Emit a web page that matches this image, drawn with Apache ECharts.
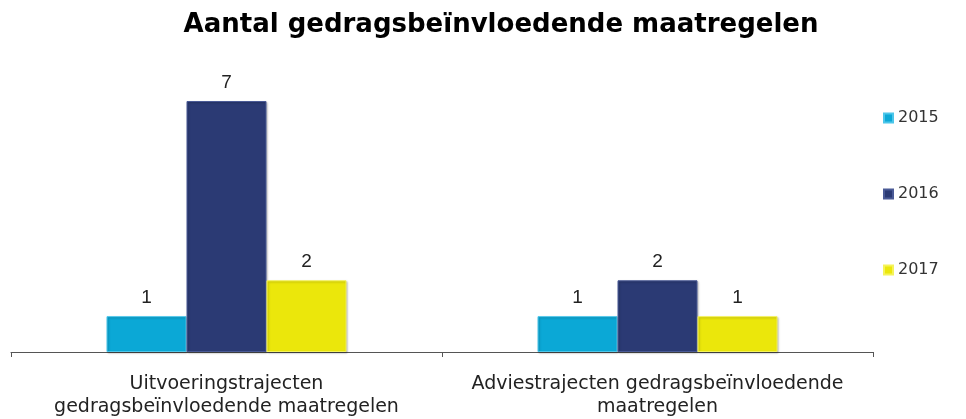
<!DOCTYPE html>
<html>
<head>
<meta charset="utf-8">
<script src="https://cdn.jsdelivr.net/npm/echarts@6/dist/echarts.min.js"></script>
<style>html,body{margin:0;padding:0;background:#fff;}#c{width:966px;height:419px;}</style>
</head>
<body>
<div id="c"></div>
<script>
const categories = ['Uitvoeringstrajecten\ngedragsbeïnvloedende maatregelen', 'Adviestrajecten gedragsbeïnvloedende\nmaatregelen'];
const seriesNames = ['2015', '2016', '2017'];
const values2015 = [1, 1];
const values2016 = [7, 2];
const values2017 = [2, 1];
const colors = ['#0ba8d6', '#2b3a74', '#ebe70b'];
const borders = ['#4cc6ea', '#4a5a96', '#f5f35a'];

const chart = echarts.init(document.getElementById('c'));
const data = [values2015, values2016, values2017];
chart.setOption({
  animation: false,
  title: {
    text: 'Aantal gedragsbeïnvloedende maatregelen',
    left: 496, top: 7, textAlign: 'center',
    textStyle: {fontFamily: 'DejaVu Sans', fontSize: 26, fontWeight: 'bold', color: '#000'}
  },
  legend: {
    orient: 'vertical', left: 883, top: 110, itemGap: 60, padding: 0,
    itemWidth: 9, itemHeight: 9, icon: 'rect',
    textStyle: {fontFamily: 'DejaVu Sans', fontSize: 16, color: '#333'},
    data: seriesNames
  },
  grid: {left: 11, right: 93, top: 101, bottom: 66},
  xAxis: {
    type: 'category', data: categories,
    axisLine: {lineStyle: {color: '#555', width: 1}},
    axisTick: {show: true, length: 5, lineStyle: {color: '#555'}},
    axisLabel: {fontFamily: 'DejaVu Sans', fontSize: 19, color: '#222', lineHeight: 23, margin: 21, interval: 0}
  },
  yAxis: {type: 'value', min: 0, max: 7, show: false, splitLine: {show: false}},
  series: seriesNames.map((n, i) => ({
    name: n, type: 'bar', data: data[i], barWidth: 80, barGap: '0%',
    itemStyle: {color: colors[i], borderColor: borders[i], borderWidth: 1,
      shadowColor: 'rgba(0,0,0,0.25)', shadowBlur: 2, shadowOffsetX: 1, shadowOffsetY: 1},
    label: {show: true, position: 'top', distance: 9, fontFamily: 'Liberation Sans', fontSize: 19, color: '#222'}
  }))
});
</script>
</body>
</html>
